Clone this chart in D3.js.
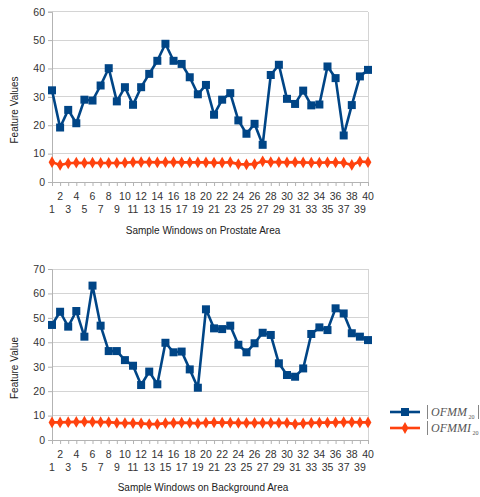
<!DOCTYPE html>
<html><head><meta charset="utf-8">
<script src="https://cdn.jsdelivr.net/npm/d3@7"></script>
<style>
html,body{margin:0;padding:0;background:#fff;}
svg{display:block;}
</style></head>
<body>
<svg id="chart" width="480" height="497"></svg>
<script>
const windows = d3.range(1, 41);
const prostateOFMM = [32.3,19.2,25.4,20.7,29.0,28.7,34.0,40.1,28.4,33.4,27.2,33.4,38.1,42.7,48.7,42.7,41.6,36.9,30.9,34.2,23.7,29.0,31.3,21.7,17.0,20.5,13.1,37.7,41.3,29.3,27.5,32.2,27.0,27.3,40.7,36.6,16.4,27.1,37.2,39.5];
const prostateOFMMI = [7.0,6.0,6.6,6.8,6.7,6.8,6.7,6.7,6.7,6.8,7.0,7.0,7.0,6.9,7.0,7.0,6.9,6.9,6.9,6.9,6.8,6.8,7.0,6.3,6.2,6.3,7.3,7.0,7.0,6.9,7.0,6.9,6.8,6.8,6.9,6.9,6.8,6.0,7.2,7.0];
const backgroundOFMM = [47.1,52.5,46.4,52.8,42.3,63.2,46.8,36.4,36.4,32.7,30.4,22.5,28.0,22.8,39.8,35.9,36.2,28.9,21.4,53.5,45.7,45.4,46.8,39.0,35.9,39.6,43.9,43.0,31.4,26.6,25.9,29.3,43.4,46.1,45.0,53.9,51.8,43.7,42.3,40.9];
const backgroundOFMMI = [7.2,7.2,7.3,7.4,7.5,7.4,7.3,7.3,7.0,6.9,6.9,6.8,6.5,6.5,6.9,7.0,7.1,7.0,6.8,7.1,7.2,7.1,7.1,7.0,7.0,7.0,7.0,7.0,7.0,7.0,6.5,6.8,7.0,7.1,7.1,7.2,7.3,7.3,7.2,7.2];
const prostateYTicks = [0,10,20,30,40,50,60];
const backgroundYTicks = [0,10,20,30,40,50,60,70];

const BLUE = "#004586", ORANGE = "#ff420e";
const svg = d3.select("#chart");
const font = "'Liberation Sans', Arial, sans-serif";

function panel(cfg) {
  const g = svg.append("g");
  const x = d3.scalePoint().domain(windows).range([52, 368]);
  const y = d3.scaleLinear().domain([0, cfg.ymax]).range([cfg.y0, cfg.ytop]);
  g.selectAll(".grid").data(cfg.yticks).join("line")
    .attr("x1", 52).attr("x2", 368)
    .attr("y1", d => y(d)).attr("y2", d => y(d))
    .attr("stroke", "#d4d4d4").attr("stroke-width", 1).attr("shape-rendering","crispEdges");
  g.append("line").attr("x1",368).attr("x2",368).attr("y1",y(cfg.ymax)).attr("y2",y(0))
    .attr("stroke","#d4d4d4").attr("shape-rendering","crispEdges");
  const ya = g.append("g").attr("transform","translate(52,0)")
    .call(d3.axisLeft(y).tickValues(cfg.yticks).tickSize(4).tickPadding(3).tickFormat(d3.format("d")));
  ya.select(".domain").attr("stroke","#b3b3b3");
  ya.selectAll(".tick line").attr("stroke","#b3b3b3");
  ya.selectAll("text").attr("fill","#333").style("font-family",font).style("font-size","10.5px");
  const xa = g.append("g").attr("transform",`translate(0,${y(0)})`)
    .call(d3.axisBottom(x).tickSize(4).tickFormat(""));
  xa.select(".domain").attr("stroke","#b3b3b3");
  xa.selectAll(".tick line").attr("stroke","#b3b3b3");
  g.selectAll(".xl").data(windows).join("text")
    .attr("x", d => x(d))
    .attr("y", d => y(0) + (d % 2 === 0 ? 17.5 : 30.5))
    .attr("text-anchor","middle")
    .attr("fill","#333").style("font-family",font).style("font-size","10.5px")
    .text(d => d);
  g.append("text").attr("x", 203).attr("y", cfg.xTitleY).attr("text-anchor","middle")
    .attr("fill","#222").style("font-family",font).style("font-size","10px")
    .text(cfg.xTitle);
  g.append("text").attr("transform",`translate(18,${cfg.yTitleY}) rotate(-90)`)
    .attr("text-anchor","middle").attr("fill","#222")
    .style("font-family",font).style("font-size","10px").text(cfg.yTitle);
  const line = d3.line().x((d,i) => x(windows[i])).y(d => y(d));
  g.append("path").datum(cfg.s1).attr("d", line).attr("fill","none")
    .attr("stroke",BLUE).attr("stroke-width",2.6).attr("stroke-linejoin","round");
  g.selectAll(".sq").data(cfg.s1).join("rect")
    .attr("x",(d,i)=>x(windows[i])-4).attr("y",d=>y(d)-4)
    .attr("width",8).attr("height",8).attr("fill",BLUE);
  g.append("path").datum(cfg.s2).attr("d", line).attr("fill","none")
    .attr("stroke",ORANGE).attr("stroke-width",2.6).attr("stroke-linejoin","round");
  const dia = d3.symbol().type(d3.symbolDiamond).size(40);
  g.selectAll(".dm").data(cfg.s2).join("path")
    .attr("d", dia).attr("transform",(d,i)=>`translate(${x(windows[i])},${y(d)})`)
    .attr("fill",ORANGE);
}

panel({ymax:60, y0:182, ytop:11.7, yticks:prostateYTicks, s1:prostateOFMM, s2:prostateOFMMI,
  xTitle:"Sample Windows on Prostate Area", xTitleY:234, yTitle:"Feature Values", yTitleY:110});
panel({ymax:70, y0:440, ytop:269, yticks:backgroundYTicks, s1:backgroundOFMM, s2:backgroundOFMMI,
  xTitle:"Sample Windows on Background Area", xTitleY:491, yTitle:"Feature Value", yTitleY:368});

const legend = svg.append("g");
const legendItems = [
  {color:BLUE, name:"OFMM", sub:"20", marker:"square", y:412},
  {color:ORANGE, name:"OFMMI", sub:"20", marker:"diamond", y:428}
];
legendItems.forEach(it => {
  legend.append("line").attr("x1",390).attr("x2",420).attr("y1",it.y).attr("y2",it.y)
    .attr("stroke",it.color).attr("stroke-width",2.6);
  if (it.marker === "square") {
    legend.append("rect").attr("x",401).attr("y",it.y-4).attr("width",8).attr("height",8).attr("fill",it.color);
  } else {
    legend.append("path").attr("d", d3.symbol().type(d3.symbolDiamond).size(40)())
      .attr("transform",`translate(405,${it.y})`).attr("fill",it.color);
  }
  legend.append("line").attr("x1",427.5).attr("x2",427.5).attr("y1",it.y-7).attr("y2",it.y+7)
    .attr("stroke","#666").attr("stroke-width",0.8);
  const t = legend.append("text").attr("x",431).attr("y",it.y+4)
    .attr("fill","#555").style("font-family","'Liberation Serif', 'Times New Roman', serif")
    .style("font-size","12px").style("font-style","italic");
  t.append("tspan").text(it.name);
  t.append("tspan").attr("dy",3).style("font-size","6px").style("font-style","normal").text(" " + it.sub);
  if (it.marker === "square") {
    legend.append("line").attr("x1",478.5).attr("x2",478.5).attr("y1",it.y-7).attr("y2",it.y+7)
      .attr("stroke","#666").attr("stroke-width",0.8);
  }
});
</script>
</body></html>
